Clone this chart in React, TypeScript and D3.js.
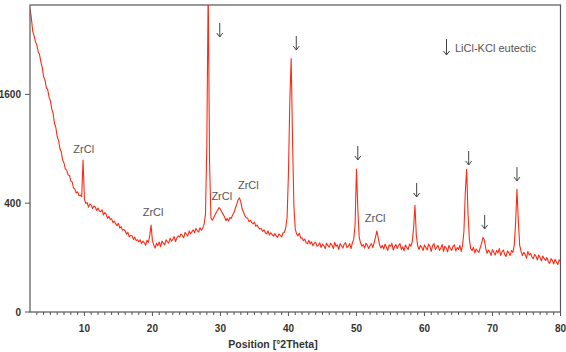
import React from "react";
import * as d3 from "d3";

// Diffractogram: intensity (counts) sampled every 0.2 °2θ from 2.0 to 80.0
const startAngle = 2.0;
const stepAngle = 0.2;
const counts: number[] = [
  3110, 2920, 2660, 2580, 2470, 2410, 2290, 2240, 2110, 2020,
  1870, 1820, 1700, 1670, 1560, 1510, 1390, 1330, 1200, 1150,
  1040, 995, 900, 865, 780, 750, 690, 680, 635, 630,
  580, 572, 520, 510, 478, 488, 458, 462, 450, 780,
  430, 398, 404, 372, 395, 386, 362, 380, 371, 348,
  366, 345, 340, 352, 318, 334, 322, 296, 310, 288,
  294, 270, 279, 262, 252, 266, 238, 246, 226, 230,
  222, 204, 214, 190, 198, 196, 178, 190, 172, 176,
  166, 176, 158, 170, 162, 150, 174, 164, 196, 255,
  172, 150, 138, 160, 148, 166, 144, 170, 160, 152,
  176, 166, 160, 184, 170, 178, 192, 168, 186, 196,
  190, 206, 198, 186, 214, 204, 196, 222, 206, 218,
  228, 212, 236, 224, 216, 240, 226, 238, 262, 320,
  950, 3600, 760, 300, 285, 300, 318, 336, 352, 368,
  356, 338, 322, 306, 282, 296, 280, 302, 296, 320,
  334, 365, 392, 426, 440, 408, 358, 336, 312, 300,
  298, 276, 284, 270, 262, 274, 248, 256, 240, 232,
  236, 220, 228, 212, 206, 222, 200, 212, 202, 194,
  208, 196, 188, 206, 198, 190, 212, 214, 240, 300,
  650, 1500, 2170, 1000, 380, 232, 206, 196, 210, 184,
  186, 172, 180, 162, 158, 174, 156, 166, 148, 160,
  164, 146, 150, 162, 140, 156, 148, 136, 160, 150,
  142, 160, 150, 136, 164, 146, 152, 132, 158, 148,
  138, 156, 162, 140, 146, 158, 136, 162, 178, 260,
  690, 360, 190, 162, 146, 154, 138, 160, 150, 136,
  148, 158, 140, 162, 190, 222, 185, 152, 138, 150,
  134, 156, 142, 128, 152, 146, 160, 130, 144, 154,
  136, 150, 158, 132, 144, 126, 152, 140, 132, 156,
  146, 166, 240, 385, 200, 148, 132, 150, 142, 128,
  152, 140, 130, 156, 146, 124, 150, 158, 132, 142,
  150, 128, 138, 154, 124, 146, 138, 122, 150, 136,
  128, 146, 152, 126, 140, 132, 150, 124, 150, 220,
  480, 688, 330, 180, 136, 128, 142, 118, 134, 126,
  120, 140, 160, 188, 175, 138, 116, 130, 122, 108,
  132, 120, 110, 128, 118, 136, 108, 122, 130, 112,
  104, 126, 118, 108, 128, 120, 150, 270, 509, 280,
  150, 124, 108, 120, 112, 98, 124, 110, 116, 102,
  96, 112, 104, 92, 110, 100, 88, 106, 96, 90,
  100, 86, 80, 96, 90, 78, 94, 84, 76, 92,
  86,
];

// LiCl-KCl eutectic reflections: [°2θ, counts at arrow tip]
const eutecticMarks: [number, number][] = [
  [29.9, 2555],
  [41.15, 2319],
  [50.2, 781],
  [58.85, 447],
  [66.5, 730],
  [68.85, 233],
  [73.6, 580],
];

// ZrCl labels: [°2θ, counts at text baseline]
const zrclLabels: [number, number][] = [
  [9.9, 854],
  [20.1, 311],
  [30.2, 424],
  [34.1, 511],
  [52.75, 274],
];

const xTickLabels = [10, 20, 30, 40, 50, 60, 70, 80];
const yTickLabels = [0, 400, 1600];

const W = 566;
const H = 352;
const left = 30;
const right = 560.5;
const top = 5;
const bottom = 312;

const axisFont = "'Liberation Sans Narrow', 'Arial Narrow', 'Liberation Sans', Arial, sans-serif";
const labelFont = "'Liberation Sans', Arial, sans-serif";

const Arrow: React.FC<{ x: number; y: number; len?: number }> = ({ x, y, len = 14 }) => (
  <g stroke="#444" strokeWidth={1} fill="none">
    <line x1={x} y1={y - len} x2={x} y2={y} />
    <path d={`M${x - 3},${y - 4} L${x},${y} L${x + 3},${y - 4}`} />
  </g>
);

export default function App() {
  const x = d3.scaleLinear().domain([2, 80]).range([left, right]);
  const y = d3.scaleSqrt().domain([0, 3184]).range([bottom, top]);

  const points: [number, number][] = counts.map((c, i) => [startAngle + i * stepAngle, c]);
  const line = d3
    .line<[number, number]>()
    .x((d) => x(d[0]))
    .y((d) => y(d[1]));

  const minorTicks = d3.range(3, 81, 1);

  return (
    <svg
      width={W}
      height={H}
      style={{ position: "absolute", left: 0, top: 0, background: "#fff" }}
    >
      <defs>
        <clipPath id="plot-clip">
          <rect x={left} y={top} width={right - left} height={bottom - top} />
        </clipPath>
      </defs>

      <path
        d={line(points) ?? ""}
        fill="none"
        stroke="#ff2a14"
        strokeWidth={1.1}
        strokeLinejoin="round"
        clipPath="url(#plot-clip)"
      />

      {/* frame */}
      <rect
        x={left}
        y={top}
        width={right - left}
        height={bottom - top}
        fill="none"
        stroke="#555"
        strokeWidth={1.2}
      />

      {/* x ticks */}
      {minorTicks.map((t) => (
        <line
          key={`xt-${t}`}
          x1={x(t)}
          x2={x(t)}
          y1={bottom}
          y2={bottom + (t % 10 === 0 ? 4 : 3)}
          stroke="#555"
          strokeWidth={1}
        />
      ))}
      {xTickLabels.map((t) => (
        <text
          key={`xl-${t}`}
          x={x(t)}
          y={bottom + 20}
          textAnchor="middle"
          fontFamily={axisFont}
          fontWeight="bold"
          fontSize={10}
          fill="#333"
        >
          {t}
        </text>
      ))}
      <text
        x={273}
        y={348}
        textAnchor="middle"
        fontFamily={axisFont}
        fontWeight="bold"
        fontSize={10.5}
        fill="#333"
      >
        Position [°2Theta]
      </text>

      {/* y ticks */}
      {yTickLabels.map((t) => (
        <g key={`yt-${t}`}>
          <line x1={left - 5} x2={left} y1={y(t)} y2={y(t)} stroke="#555" strokeWidth={1} />
          <text
            x={left - 9}
            y={y(t) + 3.5}
            textAnchor="end"
            fontFamily={axisFont}
            fontWeight="bold"
            fontSize={10}
            fill="#333"
          >
            {t}
          </text>
        </g>
      ))}

      {/* annotations */}
      {eutecticMarks.map(([a, c], i) => (
        <Arrow key={`ar-${i}`} x={x(a)} y={y(c)} />
      ))}
      {zrclLabels.map(([a, c], i) => (
        <text
          key={`zr-${i}`}
          x={x(a)}
          y={y(c)}
          textAnchor="middle"
          fontFamily={labelFont}
          fontSize={11}
          fill="#555"
        >
          ZrCl
        </text>
      ))}

      {/* legend */}
      <Arrow x={446.5} y={55} len={16} />
      <text x={455} y={52} fontFamily={labelFont} fontSize={11} fill="#555">
        LiCl-KCl eutectic
      </text>
    </svg>
  );
}
